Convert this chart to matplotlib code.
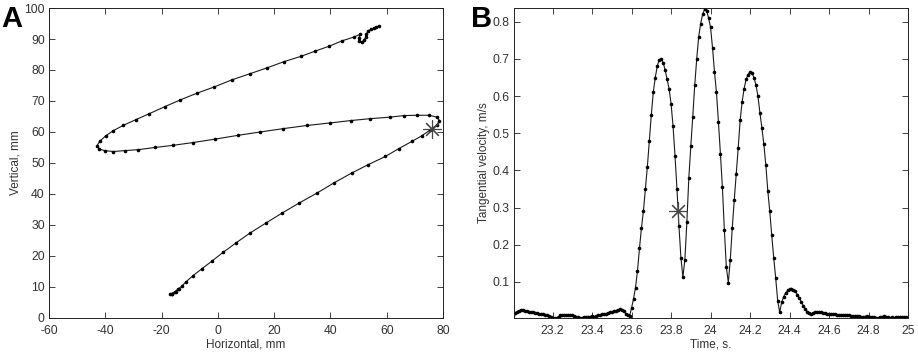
import numpy as np
import matplotlib
matplotlib.use('Agg')
import matplotlib.pyplot as plt

plt.rcParams['font.family'] = ['Liberation Sans', 'DejaVu Sans']
plt.rcParams['axes.unicode_minus'] = False

# Panel A: pen trajectory (mm)
traj_x = [-13.8, -15.0, -16.2, -17.0, -16.4, -15.3, -14.2, -12.9, -11.3,
          -8.8, -5.8, -2.2, 1.9, 6.4, 11.4, 17.0, 22.9, 28.9, 35.2, 41.1,
          47.6, 53.5, 59.5, 64.2, 69.0, 72.5, 75.5,
          77.9, 78.7, 77.9, 74.9, 70.7, 66.2, 61.2, 54.1, 47.3, 39.7, 31.6,
          23.3, 15.0, 7.0, -1.0, -8.8, -15.9, -22.4, -28.3, -33.1, -37.2,
          -40.2, -42.2, -42.9, -42.0, -39.8, -37.2, -33.7, -29.1, -24.4,
          -18.8, -13.5, -7.5, -1.4, 4.9, 11.4, 17.5, 23.5, 29.5, 34.6, 39.6,
          44.1, 48.2, 50.6, 50.0, 50.3, 51.2, 52.0, 52.5, 52.8, 53.3, 54.3,
          55.3, 56.2, 57.1]
traj_y = [9.2, 8.4, 7.8, 7.6, 7.9, 8.5, 9.3, 10.2, 11.7,
          13.7, 15.8, 18.3, 21.2, 24.2, 27.4, 30.6, 33.9, 37.1, 40.3, 43.5,
          46.8, 49.5, 52.1, 54.6, 57.0, 58.8, 60.7,
          62.4, 63.7, 64.8, 65.4, 65.4, 65.3, 64.8, 64.3, 63.7, 62.9, 62.1,
          61.1, 60.0, 58.9, 57.7, 56.6, 55.7, 55.0, 54.3, 54.0, 53.7,
          54.0, 54.5, 55.6, 57.0, 58.8, 60.4, 62.1, 64.0, 65.9,
          68.2, 70.3, 72.5, 74.5, 76.8, 78.8, 80.7, 82.7, 84.4, 86.1, 87.7,
          89.4, 90.6, 91.5, 90.2, 89.2, 89.0, 89.6, 90.6, 91.6, 92.6, 93.1,
          93.4, 93.8, 94.2]
star_a = (76.0, 61.0)

# Panel B: tangential velocity (m/s), one value per sample from t0, step dt
t0 = 23.0
dt = 0.01
velocity = [
    0.012, 0.016, 0.020, 0.023, 0.024, 0.024, 0.023, 0.021, 0.020, 0.019,
    0.018, 0.017, 0.016, 0.015, 0.014, 0.013, 0.012, 0.011, 0.008, 0.005,
    0.003, 0.002, 0.003, 0.007, 0.011, 0.012, 0.012, 0.011, 0.011, 0.010,
    0.010, 0.009, 0.007, 0.005, 0.004, 0.004, 0.005, 0.006, 0.007, 0.007,
    0.008, 0.007, 0.008, 0.010, 0.011, 0.013, 0.014, 0.015, 0.016, 0.018,
    0.020, 0.021, 0.023, 0.025, 0.026, 0.025, 0.021, 0.015, 0.010, 0.008,
    0.030, 0.055, 0.085, 0.130, 0.190, 0.245, 0.290, 0.350, 0.410, 0.480,
    0.550, 0.610, 0.650, 0.680, 0.698, 0.700, 0.690, 0.670, 0.645, 0.620,
    0.580, 0.520, 0.440, 0.350, 0.250, 0.165, 0.113, 0.160, 0.260, 0.380,
    0.465, 0.545, 0.630, 0.700, 0.760, 0.795, 0.820, 0.834, 0.830, 0.810,
    0.785, 0.730, 0.665, 0.610, 0.530, 0.445, 0.355, 0.240, 0.140, 0.098,
    0.160, 0.245, 0.320, 0.390, 0.460, 0.535, 0.585, 0.620, 0.645, 0.658,
    0.665, 0.662, 0.650, 0.630, 0.600, 0.555, 0.515, 0.470, 0.415, 0.345,
    0.290, 0.225, 0.165, 0.110, 0.050, 0.018, 0.045, 0.060, 0.070, 0.077,
    0.080, 0.081, 0.079, 0.075, 0.066, 0.057, 0.046, 0.036, 0.027, 0.020,
    0.016, 0.014, 0.016, 0.019, 0.020, 0.019, 0.018, 0.017, 0.016, 0.015,
    0.015, 0.014, 0.013, 0.013, 0.012, 0.012, 0.011, 0.011, 0.010, 0.010,
    0.010, 0.009, 0.008, 0.008, 0.009, 0.008, 0.007, 0.006, 0.007, 0.008,
    0.006, 0.005, 0.006, 0.005, 0.004, 0.004, 0.005, 0.007, 0.008, 0.007,
    0.005, 0.004, 0.005, 0.004, 0.005, 0.006, 0.007, 0.006, 0.005, 0.005,
    0.004]
star_b = (23.833, 0.292)

time = t0 + dt * np.arange(len(velocity))

line_kw = dict(color='#1a1a1a', lw=0.8, marker='o', ms=1.6,
               mfc='black', mec='black')
star_kw = dict(marker=(8, 2, 0), ms=13, mew=0.8, color='#444444', ls='none')
text_c = '#333333'

fig = plt.figure(figsize=(9.18, 3.54), dpi=100)
ax_a = fig.add_axes([0.0534, 0.1017, 0.4292, 0.8757])
ax_b = fig.add_axes([0.5600, 0.1017, 0.4291, 0.8757])

ax_a.plot(traj_x, traj_y, **line_kw)
ax_a.plot(*star_a, **star_kw)
ax_a.set_xlim(-60, 80)
ax_a.set_ylim(0, 100)
ax_a.set_xticks(np.arange(-60, 81, 20))
ax_a.set_yticks(np.arange(0, 101, 10))
ax_a.set_xlabel('Horizontal, mm', color=text_c, fontsize=8.5, labelpad=1)
ax_a.set_ylabel('Vertical, mm', color=text_c, fontsize=8.5, labelpad=2)

ax_b.plot(time, velocity, **line_kw)
ax_b.plot(*star_b, **star_kw)
ax_b.set_xlim(23.005, 25.0)
ax_b.set_ylim(0.003, 0.837)
xt = [23.2, 23.4, 23.6, 23.8, 24.0, 24.2, 24.4, 24.6, 24.8, 25.0]
ax_b.set_xticks(xt)
ax_b.set_xticklabels(['%g' % v for v in xt])
ax_b.set_yticks([0.1, 0.2, 0.3, 0.4, 0.5, 0.6, 0.7, 0.8])
ax_b.set_xlabel('Time, s.', color=text_c, fontsize=8.5, labelpad=1)
ax_b.set_ylabel('Tangential velocity, m/s', color=text_c, fontsize=8.5, labelpad=2)

for ax in (ax_a, ax_b):
    ax.tick_params(direction='in', top=True, right=True, length=4, width=0.6,
                   labelsize=8.8, labelcolor=text_c, color='#222222', pad=3)
    ax.tick_params(axis='x', pad=5)
    for s in ax.spines.values():
        s.set_linewidth(0.7)
        s.set_color('#222222')

fig.text(0.001, 0.985, 'A', fontsize=21, fontweight='bold', va='top', ha='left')
fig.text(0.513, 0.985, 'B', fontsize=21, fontweight='bold', va='top', ha='left')

fig.savefig('out.png', dpi=100)
